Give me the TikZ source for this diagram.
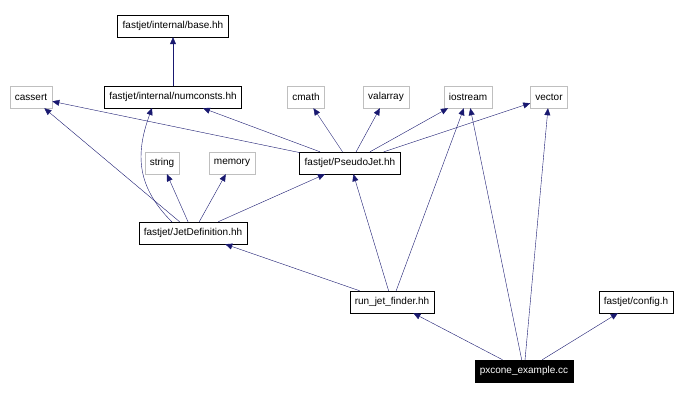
\documentclass[tikz,border=0pt]{standalone}
\usepackage{fontspec}
\setmainfont{Liberation Sans}
\usepackage{xcolor}
\usetikzlibrary{shapes,positioning,arrows.meta}
\definecolor{edgeblue}{HTML}{191970}
\definecolor{grayline}{HTML}{BFBFBF}
\tikzset{hdr/.style={rectangle,draw=black,fill=white,minimum height=22pt,inner xsep=5pt,font=\fontsize{10}{12}\selectfont},
  sys/.style={hdr,draw=grayline},
  top/.style={hdr,fill=black,text=white},
  dep/.style={edgeblue,-{Triangle[length=7pt,width=6pt]}}}

\begin{document}
\begin{tikzpicture}[x=1pt,y=-1pt]
    \useasboundingbox (0,0) rectangle (688,401);
    \node[hdr] (base) at (173,26) {fastjet/internal/base.hh};
    \node[sys] (cassert) at (31,97) {cassert};
    \node[hdr] (numc) at (173,97) {fastjet/internal/numconsts.hh};
    \node[sys] (cmath) at (306,97) {cmath};
    \node[sys] (valarr) at (386,97) {valarray};
    \node[sys] (iostr) at (468,97) {iostream};
    \node[sys] (vect) at (549,97) {vector};
    \node[sys] (strg) at (162,163) {string};
    \node[sys] (mem) at (232,163) {memory};
    \node[hdr] (pj) at (350,163) {fastjet/PseudoJet.hh};
    \node[hdr] (jdef) at (193,233) {fastjet/JetDefinition.hh};
    \node[hdr] (rjf) at (392,302) {run\_jet\_finder.hh};
    \node[hdr] (conf) at (636,302) {fastjet/config.h};
    \node[top] (px) at (524,371) {pxcone\_example.cc};
    \coordinate (jn) at (172,222);
    \coordinate (ns) at (152,108);

    \draw[dep] (numc) -- (base);
    \draw[dep] (pj) -- (cassert);
    \draw[dep] (pj) -- (numc);
    \draw[dep] (pj) -- (cmath);
    \draw[dep] (pj) -- (valarr);
    \draw[dep] (pj) -- (iostr);
    \draw[dep] (pj) -- (vect);
    \draw[dep] (jdef) -- (cassert);
    \draw[dep] (jn) to[out=135,in=250,looseness=1.1] (ns);
    \draw[dep] (jdef) -- (strg);
    \draw[dep] (jdef) -- (mem);
    \draw[dep] (jdef) -- (pj);
    \draw[dep] (rjf) -- (jdef);
    \draw[dep] (rjf) -- (pj);
    \draw[dep] (rjf) -- (iostr);
    \draw[dep] (px) -- (rjf);
    \draw[dep] (px) -- (iostr);
    \draw[dep] (px) -- (vect);
    \draw[dep] (px) -- (conf);
\end{tikzpicture}
\end{document}
